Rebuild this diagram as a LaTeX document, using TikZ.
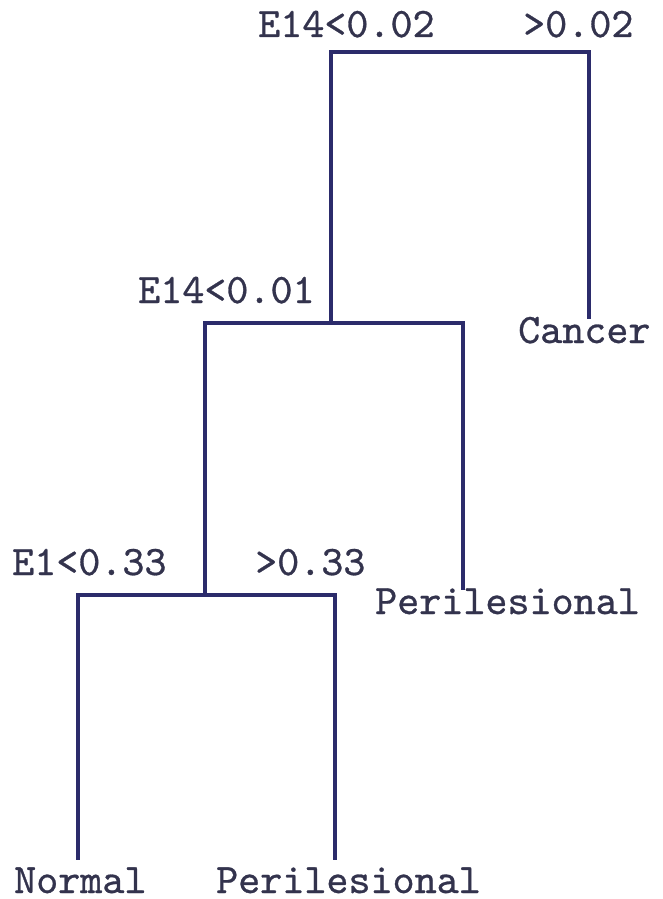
\documentclass[tikz,border=0pt]{standalone}
\usepackage{fontspec}
\newfontfamily\treefont{lmmono10-regular.otf}[FakeBold=0.7]
\definecolor{treeline}{HTML}{2B2B6B}
\definecolor{treetext}{HTML}{33334D}
\begin{document}
\begin{tikzpicture}[x=1pt,y=-1pt,
  branch/.style={draw=treeline,line width=3.4pt,line cap=rect},
  lbl/.style={anchor=base west,inner sep=0pt,text=treetext,font=\treefont\fontsize{42}{46}\selectfont}]
\useasboundingbox (0,0) rectangle (663,899);
% junctions
\coordinate (aL) at (331,52);
\coordinate (aR) at (589,52);
\coordinate (bJ) at (331,323);
\coordinate (bL) at (205,323);
\coordinate (bR) at (463,323);
\coordinate (cJ) at (205,595);
\coordinate (cL) at (78,595);
\coordinate (cR) at (335,595);
% leaf ends
\coordinate (eCancer) at (589,317);
\coordinate (ePeri1) at (463,588);
\coordinate (eNormal) at (78,858);
\coordinate (ePeri2) at (335,858);
% connectors
\draw[branch] (bJ) -- (aL) -- (aR) -- (eCancer);
\draw[branch] (cJ) -- (bL) -- (bR) -- (ePeri1);
\draw[branch] (eNormal) -- (cL) -- (cR) -- (ePeri2);
% labels
\node[lbl] (t1) at (258,37) {E14<0.02};
\node[lbl] (t2) at (523,37) {>0.02};
\node[lbl] (t3) at (138,303) {E14<0.01};
\node[lbl] (t4) at (518,343) {Cancer};
\node[lbl] (t5) at (12,575) {E1<0.33};
\node[lbl] (t6) at (255,575) {>0.33};
\node[lbl] (t7) at (375,614) {Perilesional};
\node[lbl] (t8) at (14,893) {Normal};
\node[lbl] (t9) at (216,893) {Perilesional};
\end{tikzpicture}
\end{document}
